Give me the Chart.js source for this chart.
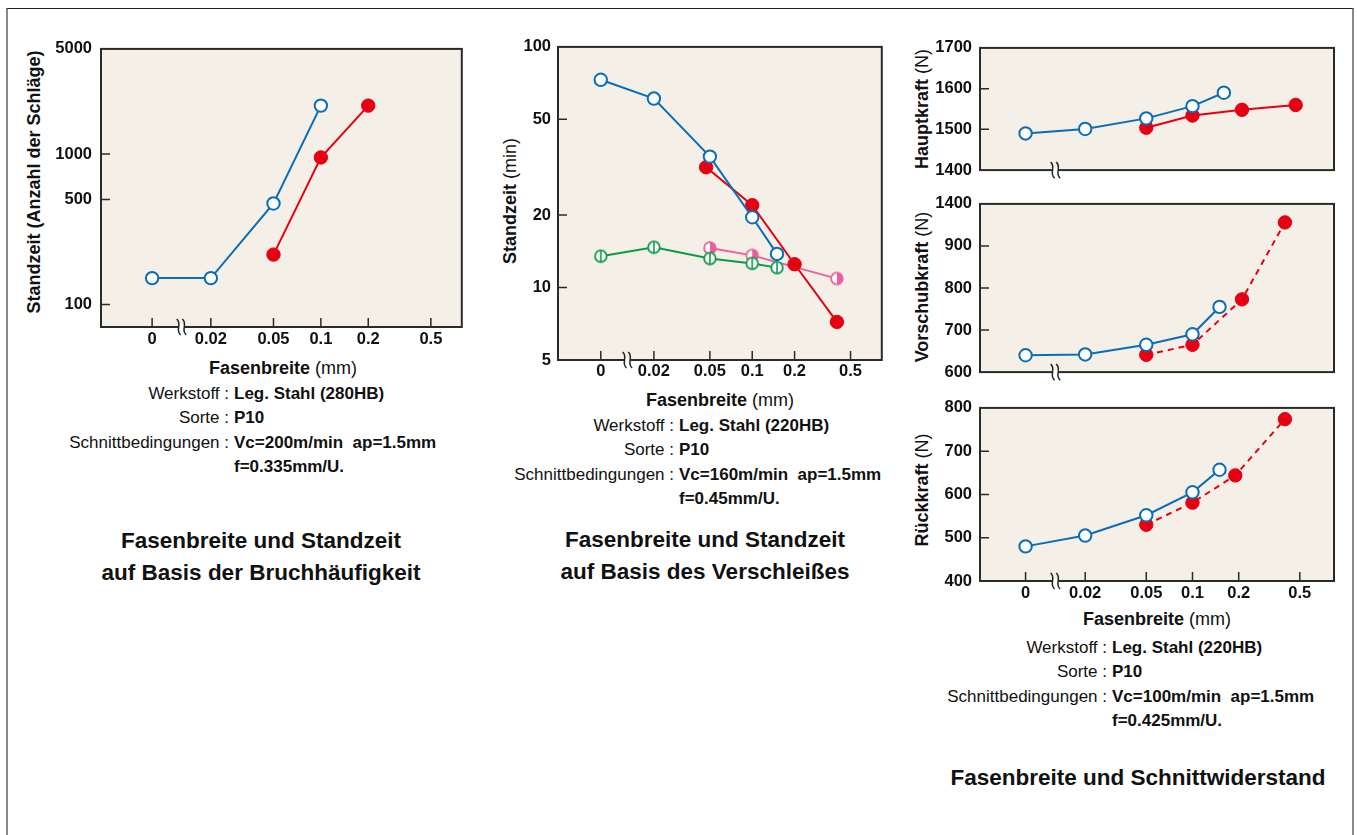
<!DOCTYPE html>
<html>
<head>
<meta charset="utf-8">
<script src="https://cdn.jsdelivr.net/npm/chart.js@4.4.0/dist/chart.umd.min.js"></script>
<style>
  body { margin: 0; background: #fff; font-family: "Liberation Sans", Arial, sans-serif; color: #111; }
  #page { position: relative; width: 1357px; height: 835px; overflow: hidden; }
  #frame { position: absolute; left: 6px; top: 8px; width: 1344px; height: 840px;
           border-top: 1px solid #222; border-left: 2px solid #888; border-right: 2px solid #888; }
  canvas { position: absolute; }
  .t { position: absolute; white-space: nowrap; }
  .ytitle { transform: translate(-50%, -50%) rotate(-90deg); font-size: 18px; }
  .xtitle { transform: translate(-50%, -50%); font-size: 18px; }
  .lg { position: absolute; white-space: nowrap; font-weight: bold; font-size: 17px; transform: translateY(-50%); }
  .lgr { transform: translate(-100%, -50%); }
  .mk { position: absolute; width: 13px; height: 13px; border-radius: 50%; box-sizing: border-box;
        transform: translate(-50%, -50%); }
  .info { position: absolute; font-size: 17px; line-height: 24.4px; }
  .info .row { display: flex; white-space: nowrap; }
  .info .lab { width: 250px; text-align: right; }
  .info .val { font-weight: bold; margin-left: 5px; }
  .title { position: absolute; font-weight: bold; font-size: 22.5px; line-height: 32px; text-align: center;
           transform: translateX(-50%); white-space: nowrap; }
</style>
</head>
<body>
<div id="page">
  <div id="frame"></div>

  <!-- Diagramm 1 -->
  <div class="t ytitle" style="left:34px;top:182px;font-weight:bold">Standzeit (Anzahl der Schläge)</div>
  <div class="t xtitle" style="left:283px;top:368px"><b>Fasenbreite</b> (mm)</div>
  <span class="mk" style="left:126px;top:76px;border:2px solid #0a6db5;background:#fff"></span>
  <div class="lg" style="left:138px;top:76px">R Fasung</div>
  <span class="mk" style="left:126px;top:102px;background:#e60012"></span>
  <div class="lg" style="left:138px;top:102px">C Fasung</div>

  <div class="info" style="left:-21px;top:382px">
    <div class="row"><span class="lab">Werkstoff :</span><span class="val">Leg. Stahl (280HB)</span></div>
    <div class="row"><span class="lab">Sorte :</span><span class="val">P10</span></div>
    <div class="row"><span class="lab">Schnittbedingungen :</span><span class="val">Vc=200m/min&nbsp; ap=1.5mm</span></div>
    <div class="row"><span class="lab"></span><span class="val">f=0.335mm/U.</span></div>
  </div>
  <div class="title" style="left:261px;top:525px">Fasenbreite und Standzeit<br>auf Basis der Bruchhäufigkeit</div>

  <!-- Diagramm 2 -->
  <div class="t ytitle" style="left:510px;top:201px"><b>Standzeit</b> (min)</div>
  <div class="t xtitle" style="left:720px;top:400px"><b>Fasenbreite</b> (mm)</div>
  <div class="lg" style="left:835px;top:56px">V<span style="font-size:9px">B</span> K<span style="font-size:9px">T</span></div>
  <div class="lg lgr" style="left:831px;top:73px">R Fasung</div>
  <span class="mk" style="left:843px;top:73px;border:2px solid #0a6db5;background:#fff"></span>
  <span class="mk" style="left:867px;top:73px;border:2px solid #0b9a48;background:linear-gradient(90deg,#fff 0 43%,#0b9a48 43% 57%,#fff 57%)"></span>
  <div class="lg lgr" style="left:831px;top:92px">C Fasung</div>
  <span class="mk" style="left:843px;top:92px;background:#e60012"></span>
  <span class="mk" style="left:867px;top:92px;border:2px solid #e8609c;background:linear-gradient(90deg,#fff 50%,#e8609c 50%)"></span>

  <div class="info" style="left:424px;top:414px">
    <div class="row"><span class="lab">Werkstoff :</span><span class="val">Leg. Stahl (220HB)</span></div>
    <div class="row"><span class="lab">Sorte :</span><span class="val">P10</span></div>
    <div class="row"><span class="lab">Schnittbedingungen :</span><span class="val">Vc=160m/min&nbsp; ap=1.5mm</span></div>
    <div class="row"><span class="lab"></span><span class="val">f=0.45mm/U.</span></div>
  </div>
  <div class="title" style="left:705px;top:524px">Fasenbreite und Standzeit<br>auf Basis des Verschleißes</div>

  <!-- Diagramm 3 -->
  <div class="t ytitle" style="left:922px;top:109px"><b>Hauptkraft</b> (N)</div>
  <div class="t ytitle" style="left:922px;top:287px"><b>Vorschubkraft</b> (N)</div>
  <div class="t ytitle" style="left:922px;top:490px"><b>Rückkraft</b> (N)</div>
  <div class="t xtitle" style="left:1157px;top:619px"><b>Fasenbreite</b> (mm)</div>
  <span class="mk" style="left:1019px;top:438px;border:2px solid #0a6db5;background:#fff"></span>
  <div class="lg" style="left:1028px;top:438px">R Fasung</div>
  <span class="mk" style="left:1019px;top:464px;background:#e60012"></span>
  <div class="lg" style="left:1028px;top:464px">C Fasung</div>

  <div class="info" style="left:857px;top:636px">
    <div class="row"><span class="lab">Werkstoff :</span><span class="val">Leg. Stahl (220HB)</span></div>
    <div class="row"><span class="lab">Sorte :</span><span class="val">P10</span></div>
    <div class="row"><span class="lab">Schnittbedingungen :</span><span class="val">Vc=100m/min&nbsp; ap=1.5mm</span></div>
    <div class="row"><span class="lab"></span><span class="val">f=0.425mm/U.</span></div>
  </div>
  <div class="title" style="left:1138px;top:762px">Fasenbreite und Schnittwiderstand</div>
</div>

<script>
// x axis (Fasenbreite, mm) – 0 sits left of the axis break
const xTickVals = [0, 0.02, 0.05, 0.1, 0.2, 0.5];
const xTickLabels = ['0', '0.02', '0.05', '0.1', '0.2', '0.5'];

// chart 1: Standzeit (Anzahl der Schläge)
const c1_rWidth = [0, 0.02, 0.05, 0.1];
const c1_rLife = [150, 150, 470, 2100];
const c1_cWidth = [0.05, 0.1, 0.2];
const c1_cLife = [215, 950, 2100];
const c1_yTicks = [100, 500, 1000, 5000];

// chart 2: Standzeit (min), VB and KT
const c2_rWidth = [0, 0.02, 0.05, 0.1, 0.15];
const c2_rVB = [73, 61, 35, 19.6, 13.8];
const c2_rKT = [13.5, 14.7, 13.2, 12.6, 12.1];
const c2_cWidth = [0.047, 0.1, 0.2, 0.4];
const c2_cVB = [31.6, 22, 12.5, 7.2];
const c2_cKTWidth = [0.05, 0.1, 0.4];
const c2_cKT = [14.6, 13.6, 10.9];
const c2_yTicks = [5, 10, 20, 50, 100];

// chart 3: Schnittkräfte (N)
const c3_hauptRWidth = [0, 0.02, 0.05, 0.1, 0.16];
const c3_hauptR = [1490, 1501, 1527, 1557, 1590];
const c3_hauptCWidth = [0.05, 0.1, 0.21, 0.47];
const c3_hauptC = [1504, 1534, 1548, 1560];
const c3_hauptTicks = [1400, 1500, 1600, 1700];

const c3_vorRWidth = [0, 0.02, 0.05, 0.1, 0.15];
const c3_vorR = [640, 642, 665, 690, 755];
const c3_vorCWidth = [0.05, 0.1, 0.21, 0.4];
const c3_vorC = [641, 665, 773, 1180];
const c3_vorTicks = [600, 700, 800, 900, 1400];

const c3_rueckRWidth = [0, 0.02, 0.05, 0.1, 0.15];
const c3_rueckR = [480, 505, 552, 605, 657];
const c3_rueckCWidth = [0.05, 0.1, 0.19, 0.4];
const c3_rueckC = [530, 581, 644, 774];
const c3_rueckTicks = [400, 500, 600, 700, 800];

const BLUE = '#0a6db5', RED = '#e60012', GREEN = '#0b9a48', PINK = '#e8609c';
const FONT = '"Liberation Sans", Arial, sans-serif';

// Vorschubkraft axis is broken above 900 (900 -> 1400 squeezed)
const squash = v => v <= 900 ? v : 900 + (v - 900) / 5;

function pts(widths, vals, zero, f) {
  return widths.map((w, i) => ({ x: w > 0 ? w : zero, y: f ? f(vals[i]) : vals[i] }));
}

function marker(color, kind) {
  const c = document.createElement('canvas');
  c.width = c.height = 16;
  const g = c.getContext('2d'), r = 5.8;
  g.beginPath(); g.arc(8, 8, r, 0, Math.PI * 2); g.fillStyle = '#fff'; g.fill();
  if (kind === 'half') {
    g.beginPath(); g.moveTo(8, 8 - r); g.arc(8, 8, r, -Math.PI / 2, Math.PI / 2); g.closePath();
    g.fillStyle = color; g.fill();
  } else {
    g.beginPath(); g.moveTo(8, 8 - r); g.lineTo(8, 8 + r); g.strokeStyle = color; g.lineWidth = 1.6; g.stroke();
  }
  g.beginPath(); g.arc(8, 8, r, 0, Math.PI * 2); g.strokeStyle = color; g.lineWidth = 1.8; g.stroke();
  return c;
}

function openSet(data, color, extra) {
  return Object.assign({ data, borderColor: color, borderWidth: 2, pointRadius: 6.2, pointBorderWidth: 2,
    pointBackgroundColor: '#fff', pointBorderColor: color, tension: 0 }, extra);
}
function fullSet(data, color, extra) {
  return Object.assign({ data, borderColor: color, borderWidth: 2, pointRadius: 6.7, pointBorderWidth: 1,
    pointBackgroundColor: color, pointBorderColor: color, tension: 0 }, extra);
}

// plot background, frame, inside tick marks, axis break
const decor = {
  id: 'decor',
  beforeDraw(chart) {
    const { ctx, chartArea: a } = chart;
    ctx.save();
    ctx.fillStyle = '#f4f0e8';
    ctx.fillRect(a.left, a.top, a.width, a.height);
    ctx.restore();
  },
  beforeDatasetsDraw(chart, args, o) {
    const { ctx, chartArea: a, scales } = chart;
    ctx.save();
    ctx.strokeStyle = '#2a2a2a';
    ctx.lineWidth = 1.5;
    ctx.beginPath();
    if (o.xTicks) {
      scales.x.ticks.forEach(t => {
        const px = scales.x.getPixelForValue(t.value);
        ctx.moveTo(px, a.bottom); ctx.lineTo(px, a.bottom - 9);
      });
    }
    scales.y.ticks.forEach(t => {
      const py = scales.y.getPixelForValue(t.value);
      if (py > a.top + 3 && py < a.bottom - 3) { ctx.moveTo(a.left, py); ctx.lineTo(a.left + 9, py); }
    });
    ctx.stroke();
    ctx.lineWidth = 2;
    ctx.strokeRect(a.left, a.top, a.width, a.height);
    ctx.restore();
  },
  afterDraw(chart, args, o) {
    const { ctx, chartArea: a, scales } = chart;
    const bx = (scales.x.getPixelForValue(o.zero) + scales.x.getPixelForValue(0.02)) / 2;
    const by = a.bottom;
    ctx.save();
    ctx.fillStyle = '#fff';
    ctx.fillRect(bx - 3, by - 2, 6, 4);
    ctx.strokeStyle = '#222';
    ctx.lineWidth = 1.5;
    [-2.8, 2.8].forEach(dx => {
      ctx.beginPath();
      ctx.moveTo(bx + dx - 2, by - 8);
      ctx.bezierCurveTo(bx + dx + 4, by - 3, bx + dx - 4, by + 3, bx + dx + 2, by + 8);
      ctx.stroke();
    });
    ctx.restore();
  }
};

function makeChart(box, plot, opt) {
  const cv = document.createElement('canvas');
  cv.width = box.w; cv.height = box.h;
  cv.style.left = box.x + 'px'; cv.style.top = box.y + 'px';
  document.getElementById('page').appendChild(cv);
  const tickFont = { family: FONT, size: 16.5, weight: 'bold' };
  return new Chart(cv, {
    type: 'line',
    data: { datasets: opt.datasets },
    plugins: [decor],
    options: {
      responsive: false,
      animation: false,
      events: [],
      layout: { padding: { top: plot.t - box.y, right: box.x + box.w - plot.r, left: 0, bottom: 0 } },
      plugins: {
        legend: { display: false },
        tooltip: { enabled: false },
        decor: { zero: opt.zero, xTicks: opt.xLabels }
      },
      scales: {
        x: {
          type: 'logarithmic', min: opt.xMin, max: opt.xMax,
          grid: { display: false, drawTicks: false }, border: { display: false },
          afterBuildTicks: s => { s.ticks = xTickVals.map(v => ({ value: v > 0 ? v : opt.zero })); },
          afterFit: s => { s.height = box.y + box.h - plot.b; },
          ticks: { display: opt.xLabels, autoSkip: false, maxRotation: 0, padding: opt.xPad || 3,
                   color: '#111', font: tickFont, callback: (v, i) => xTickLabels[i] }
        },
        y: {
          type: opt.yType, min: opt.yMin, max: opt.yMax,
          grid: { display: false, drawTicks: false }, border: { display: false },
          afterBuildTicks: s => { s.ticks = opt.yTicks.map(v => ({ value: v })); },
          afterFit: s => { s.width = plot.l - box.x; },
          ticks: { autoSkip: false, padding: opt.yPad, color: '#111', font: tickFont,
                   callback: (v, i) => opt.yLabels[i] }
        }
      }
    }
  });
}

// chart 1
const Z1 = 0.00847;
makeChart({ x: 40, y: 30, w: 430, h: 325 }, { l: 101, t: 43, r: 463, b: 327 }, {
  zero: Z1, xMin: 0.00401, xMax: 0.786, xLabels: true, xPad: 3,
  yType: 'logarithmic', yMin: 71, yMax: 5000, yPad: 9,
  yTicks: c1_yTicks, yLabels: c1_yTicks.map(String),
  datasets: [
    openSet(pts(c1_rWidth, c1_rLife, Z1), BLUE),
    fullSet(pts(c1_cWidth, c1_cLife, Z1), RED)
  ]
});

// chart 2
const Z2 = 0.00838;
const greenMk = marker(GREEN, 'split'), pinkMk = marker(PINK, 'half');
makeChart({ x: 500, y: 30, w: 390, h: 355 }, { l: 558, t: 43, r: 882, b: 360 }, {
  zero: Z2, xMin: 0.00416, xMax: 0.834, xLabels: true, xPad: 2,
  yType: 'logarithmic', yMin: 5, yMax: 100, yPad: 7,
  yTicks: c2_yTicks, yLabels: c2_yTicks.map(String),
  datasets: [
    openSet(pts(c2_rWidth, c2_rVB, Z2), BLUE),
    fullSet(pts(c2_cWidth, c2_cVB, Z2), RED),
    openSet(pts(c2_rWidth, c2_rKT, Z2), GREEN, { pointStyle: greenMk }),
    openSet(pts(c2_cKTWidth, c2_cKT, Z2), PINK, { pointStyle: pinkMk, borderWidth: 1.8 })
  ]
});

// chart 3 (three panels)
const Z3 = 0.00818;
const x3 = { zero: Z3, xMin: 0.00413, xMax: 0.835, yType: 'linear', yPad: 8 };
makeChart({ x: 925, y: 30, w: 420, h: 158 }, { l: 980, t: 42, r: 1334, b: 176 }, Object.assign({}, x3, {
  xLabels: false, yMin: 1400, yMax: 1700,
  yTicks: c3_hauptTicks, yLabels: c3_hauptTicks.map(String),
  datasets: [
    openSet(pts(c3_hauptRWidth, c3_hauptR, Z3), BLUE),
    fullSet(pts(c3_hauptCWidth, c3_hauptC, Z3), RED)
  ]
}));
makeChart({ x: 925, y: 186, w: 420, h: 204 }, { l: 980, t: 198, r: 1334, b: 378 }, Object.assign({}, x3, {
  xLabels: false, yMin: 600, yMax: squash(1400),
  yTicks: c3_vorTicks.map(squash), yLabels: c3_vorTicks.map(String),
  datasets: [
    openSet(pts(c3_vorRWidth, c3_vorR, Z3), BLUE),
    fullSet(pts(c3_vorCWidth, c3_vorC, Z3, squash), RED, { borderDash: [6, 5] })
  ]
}));
makeChart({ x: 925, y: 390, w: 420, h: 220 }, { l: 980, t: 402, r: 1334, b: 581 }, Object.assign({}, x3, {
  xLabels: true, xPad: 3, yMin: 400, yMax: 800,
  yTicks: c3_rueckTicks, yLabels: c3_rueckTicks.map(String),
  datasets: [
    openSet(pts(c3_rueckRWidth, c3_rueckR, Z3), BLUE),
    fullSet(pts(c3_rueckCWidth, c3_rueckC, Z3), RED, { borderDash: [6, 5] })
  ]
}));
</script>
</body>
</html>
